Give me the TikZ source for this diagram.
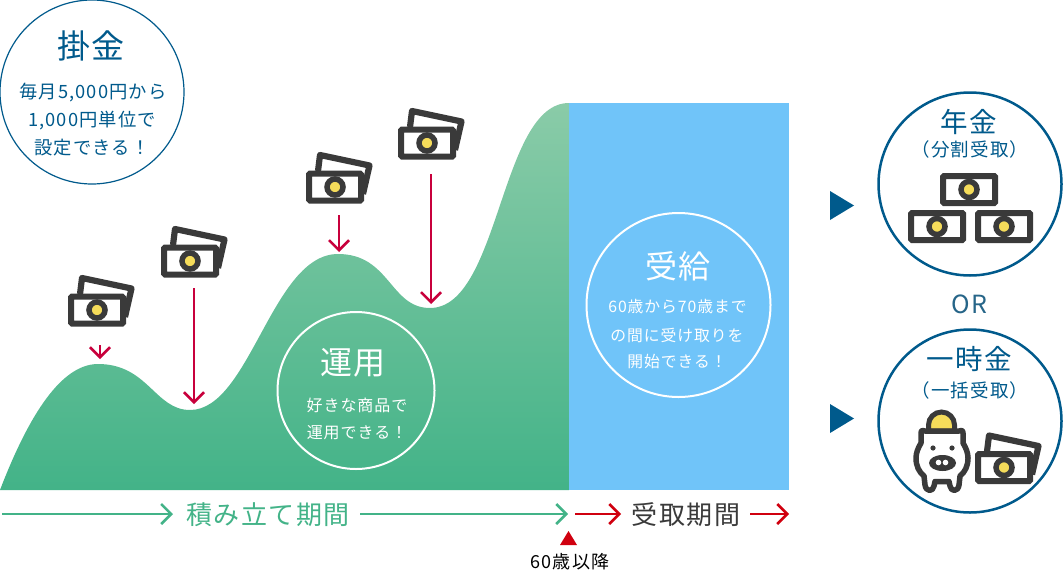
\documentclass[tikz,border=0pt]{standalone}
\usepackage{fontspec}
\usetikzlibrary{arrows.meta}
\newfontfamily\jp[LetterSpace=6]{Noto Sans CJK JP}
\definecolor{navy}{HTML}{005A8C}
\definecolor{dk}{HTML}{3A3A3A}
\definecolor{gr}{HTML}{43B388}
\definecolor{grtop}{HTML}{8ACBA8}
\definecolor{rd}{HTML}{C8003C}
\definecolor{rd2}{HTML}{D0000F}
\definecolor{sky}{HTML}{70C4F9}
\definecolor{yl}{HTML}{F5DC5A}
\tikzset{
 txt/.style={font=\jp\fontsize{#1}{#1}\selectfont,inner sep=0pt,anchor=center,yshift=-1.5pt},
 billfront/.pic={
  \draw[dk,line width=6pt,fill=white,rounded corners=1pt] (-26,-13.5) rectangle (26,13.5);
  \draw[dk,line width=5.5pt,fill=yl] (0,0) circle (8pt);
 },
 billboth/.pic={
  \draw[dk,line width=6.2pt,line join=round] (-17,-16) -- (-15,-32) -- (34.5,-21.5) -- (28,7);
  \pic at (0,0) {billfront};
 },
 barb/.style={-{Straight Barb[length=10pt,width=20pt,line width=2.5pt]}},
 dnarrow/.style={rd,line width=2.5pt,barb},
 hgreen/.style={gr,line width=2.5pt,barb},
 hred/.style={rd2,line width=2.5pt,barb},
 outline/.style={navy,line width=#1,fill=white},
}
\begin{document}
\begin{tikzpicture}[x=1pt,y=-1pt]
\useasboundingbox (0,0) rectangle (1064,570);
% hills
\shade[bottom color=gr,top color=grtop,shading angle=0]
 (0,490) .. controls (25,425) and (58,364) .. (98,364)
 .. controls (148,364) and (155,410) .. (190,410)
 .. controls (250,410) and (272,254) .. (338,254)
 .. controls (390,254) and (390,308) .. (430,308)
 .. controls (500,308) and (500,103) .. (569,103)
 -- (569,490) -- cycle;
\fill[sky] (569,103) rectangle (789,490);
% white circles
\draw[white,line width=2pt] (356,390.5) circle (78.5pt);
\draw[white,line width=2pt] (678.5,305) circle (92pt);
\node[txt=32,white] (unyo) at (353,361.5) {運用};
\node[txt=16,white] (unyo1) at (357,404) {好きな商品で};
\node[txt=16,white] (unyo2) at (357,431) {運用できる！};
\node[txt=32,white] (jukyu) at (678,265) {受給};
\node[txt=15.8,white] (j1) at (677.5,305.5) {60歳から70歳まで};
\node[txt=15.8,white] (j2) at (677,333.5) {の間に受け取りを};
\node[txt=15.8,white] (j3) at (677,360.5) {開始できる！};
% top-left circle
\draw[outline=1.2pt] (92,92) circle (92pt);
\node[txt=33,navy] (kake) at (91,44) {掛金};
\node[txt=18.3,navy] (k1) at (93,91.5) {毎月5,000円から};
\node[txt=18.3,navy] (k2) at (92,119.5) {1,000円単位で};
\node[txt=18.3,navy] (k3) at (92,146.5) {設定できる！};
% bills and arrows
\pic at (97,310) {billboth};
\pic at (190,261) {billboth};
\pic at (335,187) {billboth};
\pic at (427,143) {billboth};
\coordinate (a1s) at (100,345); \coordinate (a1e) at (100,359);
\coordinate (a2s) at (194,288); \coordinate (a2e) at (194,404);
\coordinate (a3s) at (339,215); \coordinate (a3e) at (339,252);
\coordinate (a4s) at (431,174); \coordinate (a4e) at (431,304);
\draw[dnarrow] (a1s) -- (a1e);
\draw[dnarrow] (a2s) -- (a2e);
\draw[dnarrow] (a3s) -- (a3e);
\draw[dnarrow] (a4s) -- (a4e);
% timeline
\coordinate (g1) at (2,514); \coordinate (g2) at (173,514);
\coordinate (g3) at (360,514); \coordinate (g4) at (568,514);
\coordinate (r1) at (575,514); \coordinate (r2) at (621,514);
\coordinate (r3) at (750,514); \coordinate (r4) at (789,514);
\draw[hgreen] (g1) -- (g2);
\draw[hgreen] (g3) -- (g4);
\draw[hred] (r1) -- (r2);
\draw[hred] (r3) -- (r4);
\node[txt=26,gr] (tsumi) at (268,513.5) {積み立て期間};
\node[txt=26,dk] (uke) at (686,513.5) {受取期間};
\fill[rd2] (560,545) -- (568.5,531) -- (577,545) -- cycle;
\node[txt=18,black] (sixty) at (570,560.5) {60歳以降};
% triangles
\fill[navy] (830,191) -- (854,205.5) -- (830,220) -- cycle;
\fill[navy] (830,404) -- (854,418.5) -- (830,433) -- cycle;
% right circles
\draw[outline=2.5pt] (970,184) circle (91.5pt);
\draw[outline=2.5pt] (970,421) circle (91.5pt);
\node[txt=27.5,navy] (nen) at (968.5,120.5) {年金};
\node[txt=18.5,navy] (nen2) at (970,148) {（分割受取）};
\node[txt=25,color=navy!70!gray] (or) at (969,303) {OR};
\node[txt=27.5,navy] (ichi) at (969,357.5) {一時金};
\node[txt=18.5,navy] (ichi2) at (970,389) {（一括受取）};
\pic at (969,189.5) {billfront};
\pic at (937,226.5) {billfront};
\pic at (1004,226.5) {billfront};
% pig
\draw[dk,line width=5pt,fill=yl] (928.5,431) -- (928.5,425) arc[start angle=180,end angle=0,radius=13pt] -- (954.5,431) -- cycle;
\draw[dk,line width=5.5pt,fill=white,line join=round]
 (921,433) .. controls (921,430) and (923,430) .. (925,431) -- (959,431)
 .. controls (961,430) and (963,430) .. (963,433) -- (963,443)
 .. controls (966,448) and (968,453) .. (968,458)
 .. controls (968,466) and (965,472) .. (960,476) -- (959,485)
 .. controls (958,492) and (951,492) .. (950,486) -- (949,481.5) -- (935,481.5) -- (934,486)
 .. controls (933,492) and (926,492) .. (925,485) -- (924,476)
 .. controls (919,472) and (916,466) .. (916,458)
 .. controls (916,453) and (918,448) .. (921,443) -- cycle;
\fill[dk] (933,448) circle (2.6pt) (952,448) circle (2.6pt);
\fill[dk] (942.5,463) ellipse [x radius=13.5pt,y radius=8pt];
\fill[white] (938.5,462.5) circle (2.8pt) (945.5,462.5) circle (2.8pt);
\pic at (1004,467.5) {billboth};
\end{tikzpicture}
\end{document}
